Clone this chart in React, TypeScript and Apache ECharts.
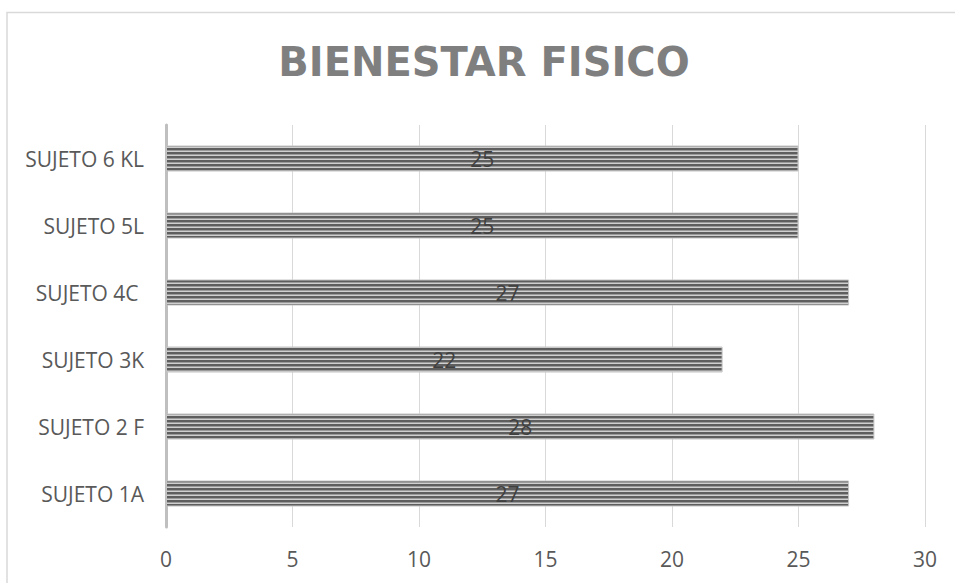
import React, { useEffect, useRef } from "react";
import * as echarts from "echarts";

const title = "BIENESTAR FISICO";
const categories = ["SUJETO 1A", "SUJETO 2 F", "SUJETO 3K", "SUJETO 4C ", "SUJETO 5L", "SUJETO 6 KL"];
const values = [27, 28, 22, 27, 25, 25];
const xTicks = { min: 0, max: 30, interval: 5 };

function makeStripes(): HTMLCanvasElement {
  const c = document.createElement("canvas");
  c.width = 4;
  c.height = 4;
  const ctx = c.getContext("2d")!;
  ctx.fillStyle = "#5e5e5e";
  ctx.fillRect(0, 0, 4, 2);
  ctx.fillStyle = "#9a9a9a";
  ctx.fillRect(0, 2, 4, 1);
  ctx.fillStyle = "#cfcfcf";
  ctx.fillRect(0, 3, 4, 1);
  return c;
}

export default function App() {
  const ref = useRef<HTMLDivElement>(null);
  useEffect(() => {
    if (!ref.current) return;
    const chart = echarts.init(ref.current, null, { renderer: "svg" });
    const stripes = makeStripes();
    chart.setOption({
      animation: false,
      backgroundColor: "#ffffff",
      graphic: [
        {
          type: "rect",
          shape: { x: 7, y: 12.5, width: 1200, height: 1200 },
          style: { fill: "none", stroke: "#d9d9d9", lineWidth: 1.5 },
          silent: true,
        },
        {
          type: "text",
          x: 484,
          y: 62,
          style: {
            text: title,
            font: 'bold 40px "DejaVu Sans"',
            fill: "#7f7f7f",
            textAlign: "center",
            textVerticalAlign: "middle",
          },
        },
      ],
      grid: { left: 166, right: 30, top: 125, bottom: 56, containLabel: false },
      xAxis: {
        type: "value",
        min: xTicks.min,
        max: xTicks.max,
        interval: xTicks.interval,
        axisLine: { show: false },
        axisTick: { show: false },
        splitLine: { show: true, lineStyle: { color: "#d9d9d9", width: 1 } },
        axisLabel: {
          color: "#595959",
          fontFamily: "Open Sans",
          fontSize: 21,
          margin: 21,
        },
      },
      yAxis: {
        type: "category",
        data: categories,
        axisLine: { show: true, lineStyle: { color: "#bfbfbf", width: 3 } },
        axisTick: { show: false },
        axisLabel: {
          color: "#595959",
          fontFamily: "Open Sans",
          fontSize: 21,
          margin: 22,
        },
      },
      series: [
        {
          type: "bar",
          data: values,
          barWidth: 26,
          itemStyle: {
            color: { image: stripes, repeat: "repeat", imageWidth: 4, imageHeight: 4 },
            borderColor: "#c4c4c4",
            borderWidth: 1,
          },
          label: {
            show: true,
            position: "inside",
            color: "#404040",
            fontFamily: "Open Sans",
            fontSize: 21,
          },
        },
      ],
    });
    return () => chart.dispose();
  }, []);
  return (
    <div
      ref={ref}
      style={{ position: "fixed", left: 0, top: 0, width: 955, height: 583, background: "#fff" }}
    />
  );
}
